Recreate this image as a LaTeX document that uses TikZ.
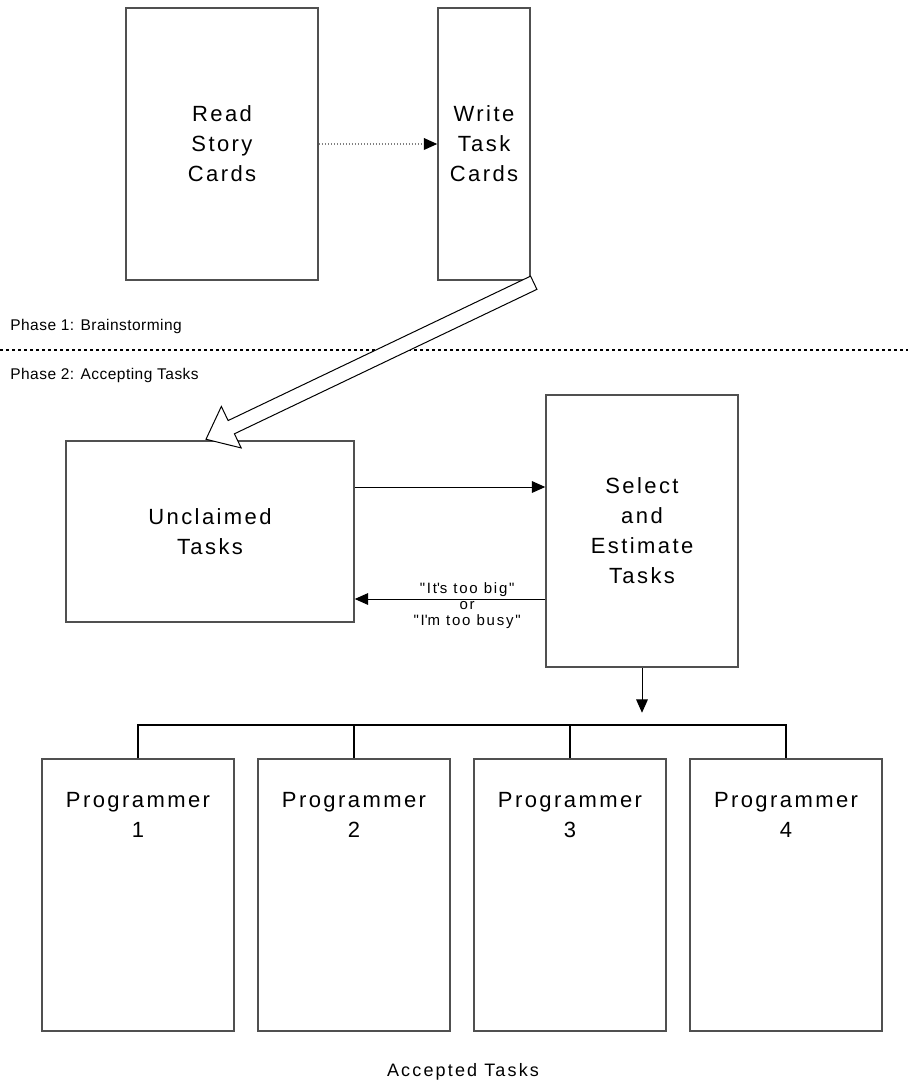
\documentclass[tikz,border=0pt]{standalone}
\usepackage{fontspec}
\setmainfont{Liberation Sans}
\newfontfamily\cardfont{Liberation Sans}[LetterSpace=11]
\newfontfamily\notefont{Liberation Sans}[LetterSpace=12]
\newfontfamily\phasefont{Liberation Sans}[LetterSpace=3]
\usepackage{tikz}
\usetikzlibrary{arrows.meta,calc,positioning}
\definecolor{frame}{HTML}{505050}
\definecolor{ink}{HTML}{000000}
\definecolor{dots}{HTML}{808080}
\tikzset{
  card/.style={draw=frame, line width=0.9pt, minimum width=115.2pt, minimum height=163.2pt,
    inner sep=0pt, align=center, font=\cardfont\fontsize{13.2pt}{18pt}\selectfont},
  cardtxt/.style={align=center, font=\cardfont\fontsize{13.2pt}{18pt}\selectfont},
  conn/.style={draw=ink, line width=0.6pt, -{Triangle[length=8pt,width=7pt]}},
  dotarrow/.style={draw=dots, line width=0.8pt, dash pattern=on 0.6pt off 1.2pt,
    -{Triangle[length=8pt,width=7pt,color=ink]}},
  sep/.style={draw=ink, line width=0.7pt, dash pattern=on 1.8pt off 1.8pt},
  bus/.style={draw=ink, line width=0.9pt},
  hollow/.style={draw=ink, line width=0.6pt, fill=white},
  phase/.style={anchor=west, inner sep=0pt, font=\phasefont\fontsize{9.3pt}{11pt}\selectfont},
  note/.style={align=center, inner sep=1pt, font=\notefont\fontsize{9pt}{9.8pt}\selectfont},
  acc/.style={font=\notefont\fontsize{10.8pt}{13pt}\selectfont}
}

\begin{document}
\begin{tikzpicture}[x=0.6pt, y=-0.6pt]
  \useasboundingbox (0,0) rectangle (908,1085);

  % phase 1
  \node[card] (rs) at (222,144) {Read\\Story\\Cards};
  \node[card, minimum width=55.2pt] (wt) at (484,144) {Write\\Task\\Cards};
  \draw[dotarrow] (rs) -- (wt);

  \node[phase] (ph1) at (10,326) {Phase 1: Brainstorming};
  \coordinate (sepL) at (0,350);
  \coordinate (sepR) at (908,350);
  \draw[sep] (sepL) -- (sepR);
  \node[phase] (ph2) at (10,375) {Phase 2: Accepting Tasks};

  % phase 2
  \node[card, minimum width=172.8pt, minimum height=108.6pt] (uc) at (210,531.5) {Unclaimed\\Tasks};
  \node[card] (se) at (642,531) {Select\\and\\Estimate\\Tasks};

  % big open arrow from the task cards down to the pool
  \coordinate (tl) at ($(wt.south east)+(3,2)$);
  \coordinate (tp) at ($(uc.north)+(-4,-1)$);
  \coordinate (hb) at ($(tp)!16.8pt!(tl)$);
  \draw[hollow] ($(tl)!4.4pt!90:(tp)$) -- ($(hb)!4.4pt!90:(tp)$) -- ($(hb)!13.8pt!90:(tp)$)
    -- (tp) -- ($(hb)!13.8pt!-90:(tp)$) -- ($(hb)!4.4pt!-90:(tp)$) -- ($(tl)!4.4pt!-90:(tp)$) -- cycle;

  \coordinate (fwd) at ($(uc.east)+(0,-44.5)$);
  \draw[conn] (fwd) -- (fwd -| se.west);
  \coordinate (back) at ($(se.west)+(0,68)$);
  \draw[conn] (back) -- node[note, pos=0.41, above] (big) {"It\textquotesingle s too big"}
    node[note, pos=0.41, below] (busy) {or\\"I\textquotesingle m too busy"} (back -| uc.east);

  \coordinate (drop) at ($(se.south)+(0,45)$);
  \coordinate (bus) at ($(se.south)+(0,57)$);
  \draw[conn] (se.south) -- (drop);

  \foreach \i/\x in {1/138,2/354,3/570,4/786} {
    \node[card] (p\i) at (\x,895) {};
    \node[cardtxt] (p\i t) at ($(p\i)+(0,-80)$) {Programmer\\\i};
  }
  \draw[bus] (p1.north) |- (bus) -| (p4.north);
  \draw[bus] (p2.north) -- (p2.north |- bus);
  \draw[bus] (p3.north) -- (p3.north |- bus);

  \node[acc] (acc) at (463,1072) {Accepted Tasks};
\end{tikzpicture}
\end{document}
